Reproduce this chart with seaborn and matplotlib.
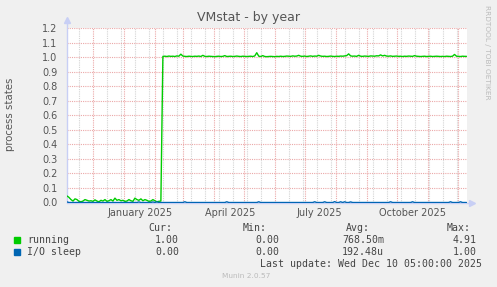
import matplotlib
matplotlib.use("Agg")
import matplotlib.pyplot as plt
import matplotlib.dates as mdates
from matplotlib.patches import Rectangle
import matplotlib.transforms as mtransforms
import seaborn as sns
import pandas as pd

# ---------------- data ----------------
start_date = "2024-11-05"
n_points = 201  # one sample every 2 days, Nov 5 2024 .. Dec 10 2025

running = [
    0.045, 0.035, 0.020, 0.010, 0.025, 0.020, 0.008, 0.005, 0.010, 0.020,
    0.015, 0.010, 0.012, 0.008, 0.018, 0.010, 0.005, 0.015, 0.010, 0.020,
    0.008, 0.012, 0.020, 0.010, 0.030, 0.015, 0.020, 0.012, 0.015, 0.008,
    0.010, 0.020, 0.012, 0.008, 0.030, 0.020, 0.015, 0.025, 0.012, 0.020,
    0.015, 0.008, 0.010, 0.020, 0.012, 0.005, 0.008, 0.010,
    1.005, 1.006, 1.004, 1.007, 1.005, 1.006, 1.004, 1.008, 1.006, 1.020,
    1.007, 1.005, 1.004, 1.006, 1.005, 1.004, 1.006, 1.005, 1.007, 1.004,
    1.012, 1.005, 1.004, 1.006, 1.005, 1.004, 1.003, 1.005, 1.006, 1.004,
    1.005, 1.010, 1.004, 1.005, 1.006, 1.004, 1.005, 1.007, 1.005, 1.004,
    1.006, 1.005, 1.004, 1.005, 1.006, 1.004, 1.008, 1.030, 1.006, 1.004,
    1.010, 1.004, 1.003, 1.004, 1.005, 1.004, 1.003, 1.005, 1.004, 1.006,
    1.004, 1.005, 1.007, 1.006, 1.005, 1.008, 1.006, 1.007, 1.012, 1.006,
    1.005, 1.007, 1.004, 1.006, 1.008, 1.005, 1.007, 1.006, 1.012, 1.007,
    1.005, 1.006, 1.004, 1.005, 1.007, 1.005, 1.004, 1.006, 1.005, 1.007,
    1.006, 1.008, 1.010, 1.022, 1.008, 1.006, 1.007, 1.005, 1.012, 1.006,
    1.005, 1.007, 1.006, 1.005, 1.008, 1.007, 1.006, 1.009, 1.008, 1.015,
    1.008, 1.012, 1.007, 1.006, 1.008, 1.005, 1.006, 1.007, 1.005, 1.006,
    1.004, 1.006, 1.005, 1.007, 1.006, 1.005, 1.010, 1.006, 1.005, 1.004,
    1.005, 1.006, 1.004, 1.005, 1.006, 1.004, 1.005, 1.006, 1.005, 1.004,
    1.005, 1.004, 1.006, 1.005, 1.004, 1.006, 1.018, 1.006, 1.005, 1.004,
    1.006, 1.005, 1.005,
]

io_sleep = [
    0.004, 0, 0, 0, 0, 0, 0, 0, 0, 0,
    0, 0, 0, 0, 0, 0, 0, 0, 0, 0,
    0, 0, 0, 0, 0, 0, 0, 0, 0, 0,
    0, 0, 0, 0, 0, 0, 0.004, 0, 0, 0,
    0, 0, 0, 0.004, 0, 0.005, 0, 0, 0, 0,
    0, 0, 0, 0, 0, 0, 0, 0, 0, 0.005,
    0, 0, 0, 0, 0, 0, 0, 0, 0, 0,
    0, 0, 0, 0, 0, 0, 0, 0, 0, 0,
    0.005, 0, 0, 0, 0, 0, 0, 0, 0, 0,
    0, 0, 0, 0, 0, 0, 0.005, 0, 0, 0,
    0, 0, 0, 0, 0, 0, 0, 0, 0, 0,
    0, 0, 0, 0, 0, 0, 0, 0, 0, 0,
    0, 0, 0, 0, 0.005, 0, 0, 0, 0, 0.005,
    0, 0, 0, 0, 0.006, 0, 0, 0.005, 0, 0.005,
    0, 0, 0.004, 0, 0, 0, 0, 0, 0, 0,
    0, 0, 0, 0, 0, 0, 0, 0, 0, 0,
    0, 0, 0.005, 0, 0, 0, 0, 0, 0, 0,
    0, 0, 0, 0.005, 0, 0, 0, 0, 0, 0,
    0, 0, 0, 0, 0, 0, 0, 0, 0, 0,
    0, 0, 0.005, 0, 0, 0, 0, 0.005, 0, 0,
    0,
]

series_names = ["running", "I/O sleep"]
series_colors = ["#00CC00", "#0066B3"]

y_ticks = [0.0, 0.1, 0.2, 0.3, 0.4, 0.5, 0.6, 0.7, 0.8, 0.9, 1.0, 1.1, 1.2]
x_label_texts = ["January 2025", "April 2025", "July 2025", "October 2025"]
x_label_dates = ["2025-01-17", "2025-04-17", "2025-07-16", "2025-10-17"]

legend_cur = ["1.00", "0.00"]
legend_min = ["0.00", "0.00"]
legend_avg = ["768.50m", "192.48u"]
legend_max = ["4.91", "1.00"]

title = "VMstat - by year"
ylabel = "process states"
last_update = "Last update: Wed Dec 10 05:00:00 2025"
footer = "Munin 2.0.57"
side_text = "RRDTOOL / TOBI OETIKER"

# ---------------- style ----------------
sns.set_style("white")
plt.rcParams["font.family"] = ["DejaVu Sans"]

W, H = 497, 287
fig = plt.figure(figsize=(W / 100, H / 100), dpi=100, facecolor="#F0F0F0")

L, R, T, B = 67, 467, 28, 202.5
ax = fig.add_axes([L / W, 1 - B / H, (R - L) / W, (B - T) / H])
ax.set_facecolor("white")

dates = pd.date_range(start_date, periods=n_points, freq="2D")
df = pd.DataFrame({
    "date": list(dates) * 2,
    "value": running + io_sleep,
    "series": [series_names[0]] * n_points + [series_names[1]] * n_points,
})

sns.lineplot(data=df, x="date", y="value", hue="series",
             palette=dict(zip(series_names, series_colors)),
             linewidth=1.0, ax=ax, legend=False, zorder=5)

ax.set_xlim(pd.Timestamp("2024-11-05"), pd.Timestamp("2025-12-10 12:00"))
ax.set_ylim(0, 1.2)
ax.set_xlabel("")
ax.set_ylabel("")

# grid
major_grid = "#EBA8A8"
minor_grid = "#D4D4D4"
ax.xaxis.set_major_locator(mdates.MonthLocator())
ax.xaxis.set_major_formatter(plt.NullFormatter())
ax.xaxis.set_minor_locator(mdates.DayLocator(interval=1) if False else
                           matplotlib.ticker.FixedLocator(
                               mdates.date2num(pd.date_range("2024-11-03", "2025-12-10", freq="14D"))))
ax.set_yticks(y_ticks)
ax.set_yticklabels([f"{v:.1f}" for v in y_ticks])

ax.grid(which="minor", axis="x", color=minor_grid, linestyle=(0, (1, 1)), linewidth=0.8)
ax.grid(which="major", axis="x", color=major_grid, linestyle=(0, (1, 1)), linewidth=0.8)
ax.grid(which="major", axis="y", color=major_grid, linestyle=(0, (1, 1)), linewidth=0.8)
ax.set_axisbelow(True)

ax.tick_params(axis="x", which="major", length=3, color=major_grid, width=0.8, direction="out")
ax.tick_params(axis="x", which="minor", length=0)
ax.tick_params(axis="y", which="major", length=2, color=major_grid, width=0.8,
               labelsize=7, labelcolor="#555555", pad=5)

for s in ["top", "right", "left", "bottom"]:
    ax.spines[s].set_visible(False)

axis_col = "#C8CFF5"
ax.plot([0, 0], [0, 1.045], transform=ax.transAxes, color=axis_col, lw=1, clip_on=False, zorder=3)
ax.plot([0, 1.012], [0, 0], transform=ax.transAxes, color=axis_col, lw=1, clip_on=False, zorder=3)
ax.plot([0], [1.045], marker="^", transform=ax.transAxes, color=axis_col, ms=5, clip_on=False, zorder=3)
ax.plot([1.012], [0], marker=">", transform=ax.transAxes, color=axis_col, ms=5, clip_on=False, zorder=3)

# x labels centred mid-month
trans = mtransforms.blended_transform_factory(ax.transData, ax.transAxes)
for d, t in zip(x_label_dates, x_label_texts):
    ax.text(mdates.date2num(pd.Timestamp(d)), -0.06, t, transform=trans,
            ha="center", va="center", fontsize=7, color="#555555")


def fx(x):
    return x / W


def fy(y):
    return 1 - y / H


fig.text(fx(249), fy(18), title, ha="center", va="center", fontsize=9, color="#555555")
fig.text(fx(10), fy(114), ylabel, ha="center", va="center", rotation=90,
         fontsize=7.3, color="#555555")
fig.text(fx(487), fy(52), side_text, ha="center", va="center", rotation=270,
         fontsize=5.3, color="#BBBBBB")

mono = dict(family="DejaVu Sans Mono", fontsize=7.1, color="#444444")
row_y = [228, 240, 252]
fig.text(fx(172), fy(row_y[0]), "Cur:", ha="right", va="center", **mono)
fig.text(fx(267), fy(row_y[0]), "Min:", ha="right", va="center", **mono)
fig.text(fx(370), fy(row_y[0]), "Avg:", ha="right", va="center", **mono)
fig.text(fx(471), fy(row_y[0]), "Max:", ha="right", va="center", **mono)
for i in range(2):
    y = row_y[i + 1]
    fig.patches.append(Rectangle((fx(14), fy(y + 3)), 6 / W, 6 / H,
                                 transform=fig.transFigure, color=series_colors[i]))
    fig.text(fx(27), fy(y), series_names[i], ha="left", va="center", **mono)
    fig.text(fx(179), fy(y), legend_cur[i], ha="right", va="center", **mono)
    fig.text(fx(279), fy(y), legend_min[i], ha="right", va="center", **mono)
    fig.text(fx(384), fy(y), legend_avg[i], ha="right", va="center", **mono)
    fig.text(fx(477), fy(y), legend_max[i], ha="right", va="center", **mono)
fig.text(fx(482), fy(264), last_update, ha="right", va="center", **mono)
fig.text(fx(246), fy(276), footer, ha="center", va="center", fontsize=5.3, color="#BBBBBB")

fig.savefig("out.png", dpi=100, facecolor=fig.get_facecolor())
